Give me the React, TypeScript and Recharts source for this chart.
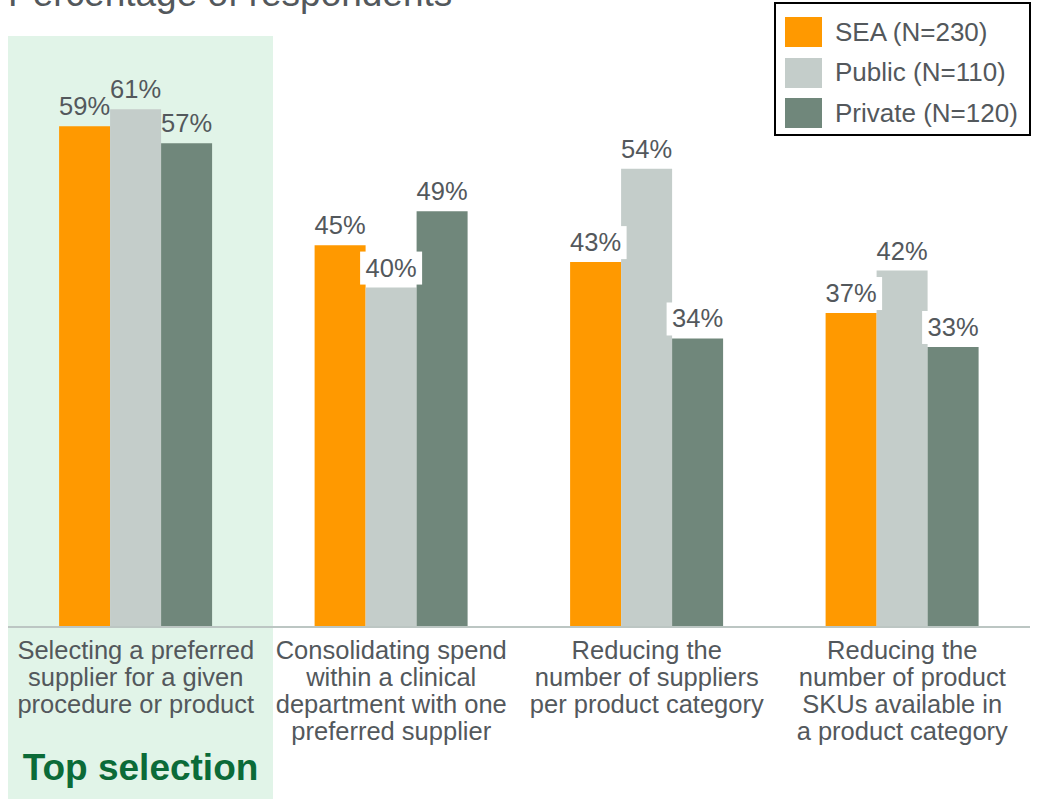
import { BarChart, Bar, XAxis, YAxis, LabelList } from "recharts";

// category labels, already broken into lines as in the slide
const categories = [
  ["Selecting a preferred", "supplier for a given", "procedure or product"],
  ["Consolidating spend", "within a clinical", "department with one", "preferred supplier"],
  ["Reducing the", "number of suppliers", "per product category"],
  ["Reducing the", "number of product", "SKUs available in", "a product category"],
];

const seaValues = [59, 45, 43, 37];
const publicValues = [61, 40, 54, 42];
const privateValues = [57, 49, 34, 33];

const seriesNames = ["SEA (N=230)", "Public (N=110)", "Private (N=120)"];

const data = categories.map((lines, i) => ({
  key: lines.join(" "),
  lines,
  sea: seaValues[i],
  pub: publicValues[i],
  priv: privateValues[i],
}));

const COLORS = ["#FF9900", "#C4CDCA", "#70877B"];
const TEXT = "#53585c";
const FONT = "'Liberation Sans', Arial, sans-serif";

function CategoryTick(props: any) {
  const { x, y, payload, index } = props;
  const lines = data[index]?.lines ?? [payload.value];
  return (
    <text x={x} y={y} textAnchor="middle" fill={TEXT} fontSize={25.5} fontFamily={FONT}>
      {lines.map((l: string, i: number) => (
        <tspan key={i} x={x} dy={i === 0 ? 24 : 27}>
          {l}
        </tspan>
      ))}
    </text>
  );
}

function ValueLabel(props: any) {
  const { x, y, width, value, index } = props;
  const cx = x + width / 2;
  const ty = y - 11;
  return (
    <g>
      {index !== 0 && (
        <rect x={cx - 31} y={ty - 25} width={62} height={33} fill="#ffffff" />
      )}
      <text x={cx} y={ty} textAnchor="middle" fill={TEXT} fontSize={25.5} fontFamily={FONT}>
        {`${value}%`}
      </text>
    </g>
  );
}

function LegendBox() {
  return (
    <div
      style={{
        position: "absolute",
        left: 774,
        top: 2,
        border: "2px solid #000",
        background: "#fff",
        width: 257,
        height: 134,
        boxSizing: "border-box",
        padding: "8px 0 0 9px",
        fontFamily: FONT,
        fontSize: 26,
        color: TEXT,
      }}
    >
      {seriesNames.map((n, i) => (
        <div key={n} style={{ display: "flex", alignItems: "center", height: 40.5 }}>
          <div style={{ width: 37, height: 30, background: COLORS[i], marginRight: 13 }} />
          <span>{n}</span>
        </div>
      ))}
    </div>
  );
}

export default function App() {
  return (
    <div
      style={{
        position: "fixed",
        left: 0,
        top: 0,
        width: 1038,
        height: 799,
        background: "#fff",
        overflow: "hidden",
      }}
    >
      <div
        style={{
          position: "absolute",
          left: 8,
          top: 36,
          width: 265,
          height: 763,
          background: "#E1F4E8",
        }}
      />
      <div
        style={{
          position: "absolute",
          left: 8,
          top: -25,
          fontFamily: FONT,
          fontSize: 37,
          lineHeight: "37px",
          color: TEXT,
          whiteSpace: "nowrap",
        }}
      >
        Percentage of respondents
      </div>
      <div style={{ position: "absolute", left: 0, top: 0 }}>
        <BarChart
          width={1038}
          height={799}
          data={data}
          margin={{ top: 33, right: 8, bottom: 0, left: 8 }}
          barCategoryGap="20%"
          barGap={0}
        >
          <XAxis
            dataKey="key"
            height={172}
            interval={0}
            tickLine={false}
            axisLine={{ stroke: "#BCC6C3", strokeWidth: 2 }}
            tick={<CategoryTick />}
          />
          <YAxis hide domain={[0, 70]} />
          <Bar dataKey="sea" name={seriesNames[0]} fill={COLORS[0]} isAnimationActive={false}>
            <LabelList dataKey="sea" content={<ValueLabel />} />
          </Bar>
          <Bar dataKey="pub" name={seriesNames[1]} fill={COLORS[1]} isAnimationActive={false}>
            <LabelList dataKey="pub" content={<ValueLabel />} />
          </Bar>
          <Bar dataKey="priv" name={seriesNames[2]} fill={COLORS[2]} isAnimationActive={false}>
            <LabelList dataKey="priv" content={<ValueLabel />} />
          </Bar>
        </BarChart>
      </div>
      <LegendBox />
      <div
        style={{
          position: "absolute",
          left: 8,
          width: 265,
          top: 746,
          textAlign: "center",
          fontFamily: FONT,
          fontSize: 37,
          fontWeight: "bold",
          color: "#0B6B38",
          lineHeight: "44px",
        }}
      >
        Top selection
      </div>
    </div>
  );
}
